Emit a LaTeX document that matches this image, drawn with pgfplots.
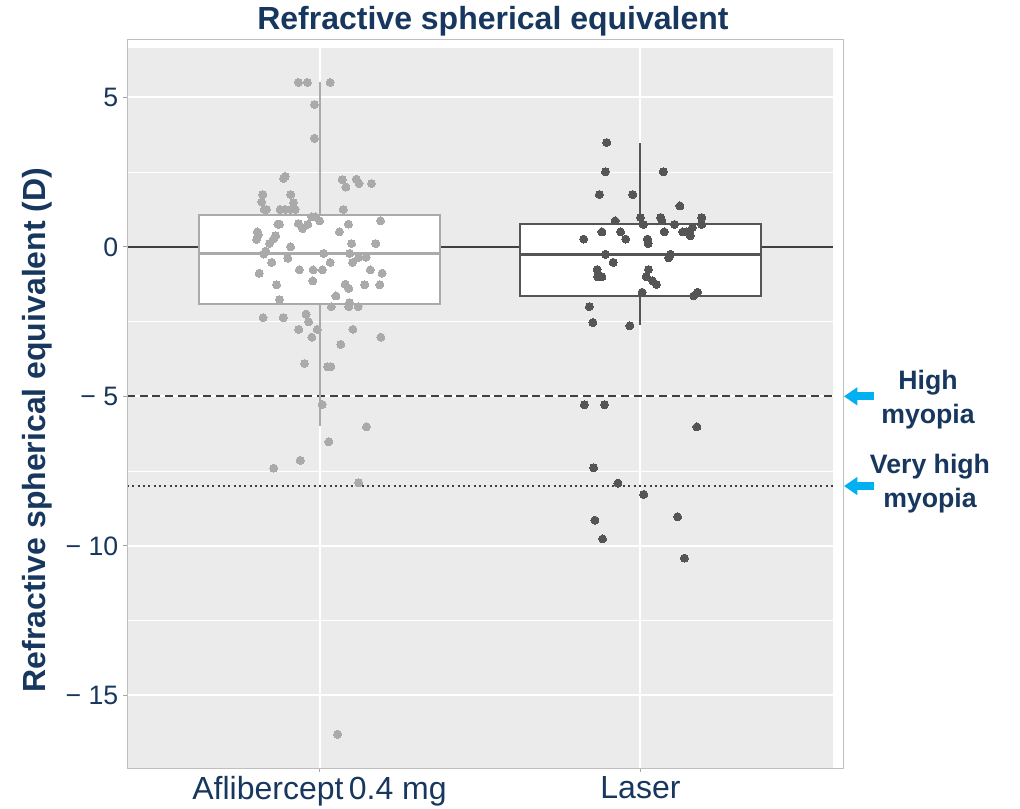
\documentclass[border=0pt]{standalone}
\usepackage{fontspec}
\setmainfont{Liberation Sans}
\usepackage{pgfplots}
\pgfplotsset{compat=1.18}
\usepgfplotslibrary{statistics}
\usepackage{pgfplotstable}
\usetikzlibrary{arrows.meta}
\definecolor{navy}{RGB}{23,55,94}
\definecolor{panel}{RGB}{235,235,235}
\definecolor{aflc}{RGB}{170,170,170}
\definecolor{lasc}{RGB}{85,85,85}
\definecolor{refl}{RGB}{64,64,64}
\definecolor{cyanarrow}{RGB}{0,176,240}

\pgfplotstableread{
x y
0.934 5.5
0.962 5.5
1.033 5.5
0.984 4.76
0.984 3.63
0.888 2.29
0.893 2.36
1.071 2.25
1.082 2.0
1.115 2.26
1.123 2.12
1.162 2.12
0.823 1.75
0.820 1.5
0.910 1.75
0.919 1.48
0.828 1.25
0.835 1.25
0.877 1.25
0.893 1.25
0.910 1.25
0.924 1.25
1.074 1.25
0.976 1.0
0.987 1.0
1.000 0.87
1.190 0.87
0.870 0.76
0.875 0.76
0.934 0.78
0.947 0.61
0.963 0.75
1.090 0.76
0.806 0.5
0.809 0.41
0.863 0.37
0.858 0.28
0.804 0.25
1.062 0.5
0.844 0.11
0.910 0.0
1.100 0.11
1.175 0.11
0.832 -0.14
0.826 -0.24
1.013 -0.22
1.094 -0.22
1.122 -0.35
1.145 -0.35
0.851 -0.52
0.901 -0.38
1.033 -0.52
1.103 -0.52
0.812 -0.88
0.937 -0.77
0.980 -0.77
1.009 -0.77
1.158 -0.77
1.195 -0.88
0.866 -1.27
0.979 -1.14
1.080 -1.25
1.091 -1.39
1.141 -1.27
1.188 -1.27
1.051 -1.64
0.875 -1.76
1.093 -1.87
1.091 -2.0
1.120 -2.0
1.037 -2.0
0.958 -2.25
0.824 -2.37
0.887 -2.37
0.966 -2.51
0.935 -2.76
0.993 -2.76
1.104 -2.76
0.976 -3.02
1.191 -3.02
1.066 -3.26
0.953 -3.9
1.025 -4.01
1.035 -4.01
1.008 -5.27
1.146 -6.02
1.029 -6.52
0.940 -7.14
0.857 -7.4
1.122 -7.89
1.056 -16.3
}\afltab

\pgfplotstableread{
x y
1.895 3.49
1.891 2.51
2.071 2.51
1.872 1.75
1.976 1.75
2.123 1.37
1.921 0.87
2.000 0.98
2.009 0.75
2.063 0.98
2.067 0.87
2.106 0.75
2.191 0.98
2.191 0.75
1.880 0.5
1.938 0.5
2.074 0.5
2.132 0.5
2.143 0.5
2.162 0.65
2.155 0.37
1.823 0.26
1.954 0.26
2.022 0.26
2.024 0.11
1.891 -0.25
2.094 -0.25
2.088 -0.37
1.915 -0.52
1.865 -0.76
1.867 -1.0
1.880 -1.0
2.025 -0.76
2.018 -1.0
2.038 -1.14
2.050 -1.26
2.005 -1.52
2.166 -1.64
2.178 -1.52
1.841 -2.0
1.852 -2.53
1.967 -2.64
1.825 -5.28
1.888 -5.28
2.176 -6.02
1.854 -7.39
1.930 -7.9
2.010 -8.28
1.858 -9.14
2.116 -9.03
1.882 -9.77
2.137 -10.41
}\lastab

\begin{document}
\begin{tikzpicture}
\begin{axis}[
  scale only axis, width=529.5pt, height=540pt,
  xmin=0.4, xmax=2.6, ymin=-17.43, ymax=6.65,
  boxplot/draw direction=y,
  axis background/.style={fill=panel},
  axis line style={draw=none},
  xtick={1,2}, xticklabels={{Aflibercept\kern4pt0.4 mg}, Laser},
  ytick={-15,-10,-5,0,5}, yticklabels={−\ 15,−\ 10,−\ 5,0,5},
  minor ytick={-12.5,-7.5,-2.5,2.5},
  grid=both,
  major grid style={white, line width=1.5pt},
  minor grid style={white, line width=0.6pt},
  tick align=outside, major tick length=3pt, minor tick length=0pt,
  xtick pos=left, ytick pos=left,
  tick style={gray!70, line width=0.6pt},
  ticklabel style={text=navy},
  xticklabel style={font=\fontsize{24}{28}\selectfont},
  yticklabel style={font=\fontsize{20}{24}\selectfont},
  clip=false,
]
\addplot[refl, line width=1.5pt] coordinates {(0.4,0) (2.6,0)};
\addplot[refl, line width=1.5pt, dash pattern=on 6pt off 3.5pt] coordinates {(0.4,-5) (2.6,-5)};
\addplot[refl, line width=1.5pt, dash pattern=on 1.5pt off 2.5pt] coordinates {(0.4,-8) (2.6,-8)};

\addplot[draw=aflc, line width=1.5pt, fill=white,
  boxplot prepared={draw position=1, lower whisker=-6.0, lower quartile=-1.92,
    median=-0.22, upper quartile=1.06, upper whisker=5.5,
    box extend=0.75, whisker extend=0,
    every median/.style={line width=2.5pt}}] coordinates {};
\addplot[draw=lasc, line width=1.5pt, fill=white,
  boxplot prepared={draw position=2, lower whisker=-2.62, lower quartile=-1.64,
    median=-0.25, upper quartile=0.75, upper whisker=3.48,
    box extend=0.75, whisker extend=0,
    every median/.style={line width=2.5pt}}] coordinates {};

\addplot[only marks, mark=*, mark size=3pt, mark options={draw=aflc, fill=aflc, line width=0pt}] table {\afltab};
\addplot[only marks, mark=*, mark size=3pt, mark options={draw=lasc, fill=lasc, line width=0pt}] table {\lastab};

\draw[gray!50, line width=0.75pt] (rel axis cs:0,0) rectangle (rel axis cs:1.0142,1.0125);

\node[font=\bfseries\fontsize{24}{28}\selectfont, text=navy] at (rel axis cs:0.5184,1.0375) {Refractive spherical equivalent};
\node[rotate=90, font=\bfseries\fontsize{24}{28}\selectfont, text=navy] at (rel axis cs:-0.1275,0.4694) {Refractive spherical equivalent (D)};
\node[align=center, font=\bfseries\fontsize{20}{25.5}\selectfont, text=navy] at (rel axis cs:1.1346,0.5111) {High\\myopia};
\node[align=center, font=\bfseries\fontsize{20}{25.5}\selectfont, text=navy] at (rel axis cs:1.1374,0.3944) {Very high\\myopia};
\draw[cyanarrow, line width=6pt, -{Triangle[width=13pt,length=10pt]}] (axis cs:2.7276,-5) -- (axis cs:2.6343,-5);
\draw[cyanarrow, line width=6pt, -{Triangle[width=13pt,length=10pt]}] (axis cs:2.7276,-8) -- (axis cs:2.6343,-8);

\coordinate (bbl) at (rel axis cs:-0.1799,-0.0556);
\coordinate (btr) at (rel axis cs:1.2649,1.0667);
\end{axis}
\pgfresetboundingbox
\useasboundingbox (bbl) rectangle (btr);
\end{tikzpicture}
\end{document}
